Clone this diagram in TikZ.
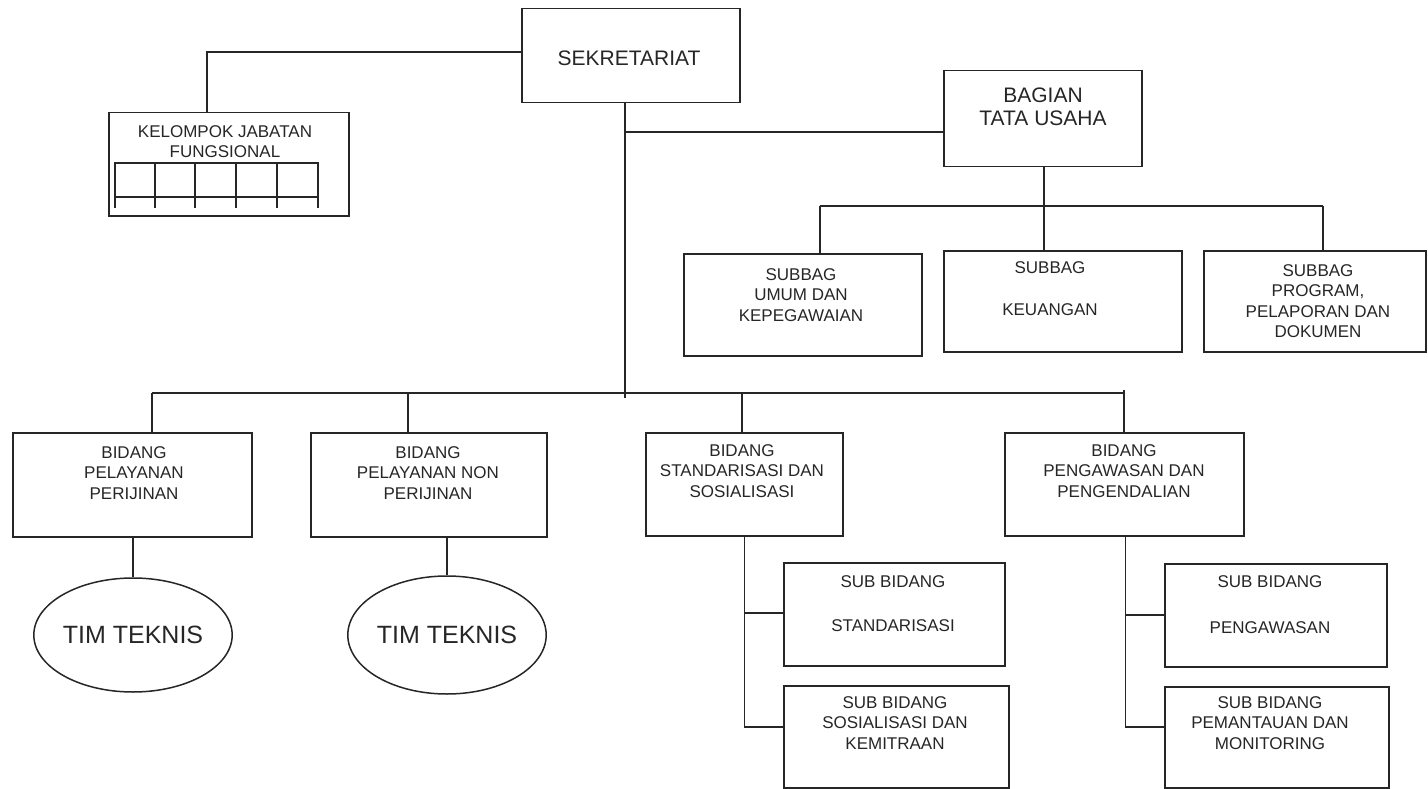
\documentclass[tikz,border=0pt]{standalone}
\usepackage{fontspec}
\setmainfont{Liberation Sans}
\usetikzlibrary{shapes.geometric}
\begin{document}
\begin{tikzpicture}[x=1pt,y=-1pt,
  ln/.style={line width=1.5pt, draw=black!85},
  box/.style={draw=black!85, line width=1.5pt, anchor=north west, inner sep=0pt},
  txt/.style={align=center, inner sep=0pt, font=\fontsize{17}{20.5}\selectfont, text=black!85},
  big/.style={align=center, inner sep=0pt, font=\fontsize{21}{23}\selectfont, text=black!85},
  oval/.style={draw=black!85, line width=1.5pt, ellipse, inner sep=0pt, font=\fontsize{25}{27}\selectfont, text=black!85}]
\useasboundingbox (0,0) rectangle (1428,789);
% boxes
\node[box, minimum width=218pt, minimum height=94pt] (sek) at (521,8) {};
\node[big] (sekt) at (629,58) {SEKRETARIAT};
\node[box, minimum width=240pt, minimum height=103pt] (kjf) at (108,112) {};
\node[txt, anchor=north] (kjft) at (225,125) {KELOMPOK JABATAN\\FUNGSIONAL};
\node[box, minimum width=198pt, minimum height=96pt] (bag) at (943,70) {};
\node[big, anchor=north] (bagt) at (1043,88) {BAGIAN\\TATA USAHA};
% subbag
\node[box, minimum width=238pt, minimum height=102pt] (sb1) at (683,253) {};
\node[txt, anchor=north] (sb1t) at (801,268) {SUBBAG\\UMUM DAN\\KEPEGAWAIAN};
\node[box, minimum width=238pt, minimum height=101pt] (sb2) at (943,250) {};
\node[txt] (sb2t) at (1050,268) {SUBBAG};
\node[txt] (sb2u) at (1050,310) {KEUANGAN};
\node[box, minimum width=222pt, minimum height=101pt] (sb3) at (1203,250) {};
\node[txt, anchor=north] (sb3t) at (1318,264) {SUBBAG\\PROGRAM,\\PELAPORAN DAN\\DOKUMEN};
% bidang
\node[box, minimum width=239pt, minimum height=104pt] (bd1) at (12,432) {};
\node[txt, anchor=north] (bd1t) at (134,446) {BIDANG\\PELAYANAN\\PERIJINAN};
\node[box, minimum width=236pt, minimum height=104pt] (bd2) at (310,432) {};
\node[txt, anchor=north] (bd2t) at (428,446) {BIDANG\\PELAYANAN NON\\PERIJINAN};
\node[box, minimum width=197pt, minimum height=103pt] (bd3) at (645,432) {};
\node[txt, anchor=north] (bd3t) at (742,444) {BIDANG\\STANDARISASI DAN\\SOSIALISASI};
\node[box, minimum width=239pt, minimum height=103pt] (bd4) at (1004,432) {};
\node[txt, anchor=north] (bd4t) at (1124,444) {BIDANG\\PENGAWASAN DAN\\PENGENDALIAN};
% tim teknis
\node[oval, minimum width=198pt, minimum height=114pt] (tim1) at (133,635) {TIM TEKNIS};
\node[oval, minimum width=197pt, minimum height=118pt] (tim2) at (447,635) {TIM TEKNIS};
% sub bidang
\node[box, minimum width=221pt, minimum height=103pt] (sd1) at (783,562) {};
\node[txt] (sd1t) at (893,582) {SUB BIDANG};
\node[txt] (sd1u) at (893,626) {STANDARISASI};
\node[box, minimum width=225pt, minimum height=102pt] (sd2) at (783,685) {};
\node[txt, anchor=north] (sd2t) at (895,696) {SUB BIDANG\\SOSIALISASI DAN\\KEMITRAAN};
\node[box, minimum width=222pt, minimum height=103pt] (se1) at (1164,563) {};
\node[txt] (se1t) at (1270,582) {SUB BIDANG};
\node[txt] (se1u) at (1270,628) {PENGAWASAN};
\node[box, minimum width=224pt, minimum height=101pt] (se2) at (1164,686) {};
\node[txt, anchor=north] (se2t) at (1270,696) {SUB BIDANG\\PEMANTAUAN DAN\\MONITORING};
% coordinates
\coordinate (kx) at (207,52);
\coordinate (tr) at (625,398);
\coordinate (tb) at (625,132);
\coordinate (sh) at (1044,206);
\coordinate (v3) at (744.5,727);
\coordinate (v4) at (1125.5,727);
\coordinate (h3) at (744.5,613);
\coordinate (h4) at (1125.5,615);
% connectors
\draw[ln] (sek.west |- kx) -- (kx) -- (kjf.north -| kx);
\draw[ln] (sek.south -| tr) -- (tr);
\draw[ln] (tb) -- (bag.west |- tb);
\draw[ln] (bag.south -| sh) -- (sh);
\draw[ln] (820,206) -- (1323,206);
\draw[ln] (820,206) -- (sb1.north -| 820,0);
\draw[ln] (sh) -- (sb2.north -| sh);
\draw[ln] (1323,206) -- (sb3.north -| 1323,0);
\draw[ln] (152,393) -- (1124,393);
\draw[ln] (152,393) -- (bd1.north -| 152,0);
\draw[ln] (408,393) -- (bd2.north -| 408,0);
\draw[ln] (742,393) -- (bd3.north -| 742,0);
\draw[ln] (1124,390) -- (bd4.north -| 1124,0);
\draw[ln] (bd1.south -| tim1) -- (tim1.north);
\draw[ln] (bd2.south -| tim2) -- (tim2.north);
\draw[ln] (bd3.south -| v3) -- (v3) -- (sd2.west |- v3);
\draw[ln] (h3) -- (sd1.west |- h3);
\draw[ln] (bd4.south -| v4) -- (v4) -- (se2.west |- v4);
\draw[ln] (h4) -- (se1.west |- h4);
% grid in kelompok box
\draw[line width=1.2pt, draw=black!85] (115,208) -- (115,163) -- (318,163) -- (318,208);
\draw[line width=1.2pt, draw=black!85] (115,197) -- (318,197);
\foreach \gx in {155,195,236,277} \draw[line width=1.2pt, draw=black!85] (\gx,163) -- (\gx,208);
\end{tikzpicture}
\end{document}
